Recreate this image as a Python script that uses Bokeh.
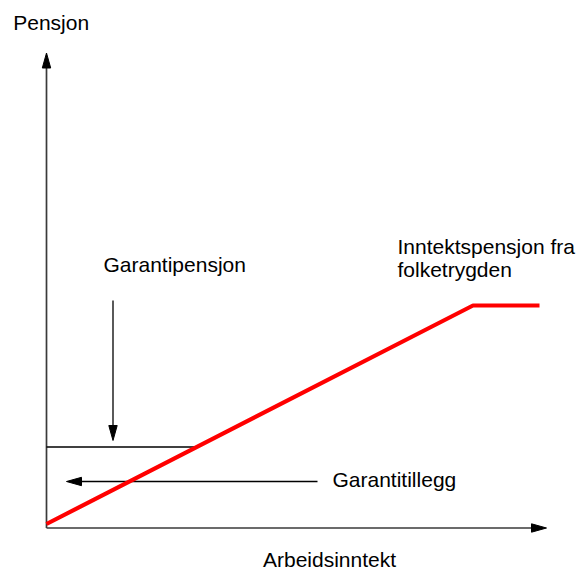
from bokeh.plotting import figure
from bokeh.models import Range1d
from bokeh.core.properties import value
from bokeh.embed import file_html
from bokeh.resources import INLINE

# ---- data (schematic units) ----
axis_x_end = 100.0          # Arbeidsinntekt axis length
axis_y_end = 95.0           # Pensjon axis length

income_pts = [0.0, 85.3, 98.6]      # red line: inntektspensjon fra folketrygden
pension_pts = [0.8, 44.5, 44.5]

garanti_level = 16.2                # garantipensjon level
garanti_arrow_x = 13.3
garanti_arrow_from = 45.5
garanti_arrow_to = 17.5

tillegg_level = 9.3                 # garantitillegg arrow
tillegg_from = 54.2
tillegg_to = 4.0

labels = ["Pensjon", "Garantipensjon", "Inntektspensjon fra", "folketrygden",
          "Garantitillegg", "Arbeidsinntekt"]

# ---- layout ----
W, H = 582, 570
PX = 5.0  # pixels per unit
x0 = -46 / PX
y0 = -42.5 / PX
p = figure(width=W, height=H, output_backend="svg", toolbar_location=None,
           x_range=Range1d(x0, x0 + W / PX), y_range=Range1d(y0, y0 + H / PX),
           min_border=0, outline_line_color=None)
p.axis.visible = False
p.grid.visible = False

text_shift = 1.6
label_x = [-6.66, 11.4, 70.2, 70.2, 57.2, 43.3]
label_y = [v + text_shift for v in [99.5, 51.1, 54.7, 50.1, 8.1, -7.8]]


def head(tip_x, tip_y, dx, dy, length=15, half=4.2):
    # triangle in data units from tip, direction (dx, dy) pointing toward tip
    L = length / PX
    h = half / PX
    bx, by = tip_x - dx * L, tip_y - dy * L
    nx, ny = -dy * h, dx * h
    return [tip_x, bx + nx, bx - nx], [tip_y, by + ny, by - ny]


axis_col = "#3a3a3a"
# axes
p.line([0, axis_x_end - 2], [0, 0], line_color=axis_col, line_width=1.7)
p.line([0, 0], [0, axis_y_end - 2], line_color=axis_col, line_width=1.7)
hx, hy = head(axis_x_end, 0, 1, 0)
p.patch(hx, hy, color="black")
hx, hy = head(0, axis_y_end, 0, 1)
p.patch(hx, hy, color="black")

# garantipensjon level line (to where the red line crosses it)
slope = (pension_pts[1] - pension_pts[0]) / (income_pts[1] - income_pts[0])
cross_x = (garanti_level - pension_pts[0]) / slope
p.line([0, cross_x], [garanti_level, garanti_level], line_color="black", line_width=1.3)

# down arrow
p.line([garanti_arrow_x, garanti_arrow_x], [garanti_arrow_from, garanti_arrow_to + 2],
       line_color="black", line_width=1.3)
hx, hy = head(garanti_arrow_x, garanti_arrow_to, 0, -1)
p.patch(hx, hy, color="black")

# garantitillegg arrow
p.line([tillegg_from, tillegg_to + 2], [tillegg_level, tillegg_level],
       line_color="black", line_width=1.3)
hx, hy = head(tillegg_to, tillegg_level, -1, 0)
p.patch(hx, hy, color="black")

# red line
p.line(income_pts, pension_pts, line_color="#ff0000", line_width=4.2)

# texts
p.text(x=label_x, y=label_y, text=labels, text_font=value("Liberation Sans"),
       text_font_size="21px", text_color="black", text_align="left",
       text_baseline="alphabetic")

open("out.html", "w").write(file_html(p, INLINE))
